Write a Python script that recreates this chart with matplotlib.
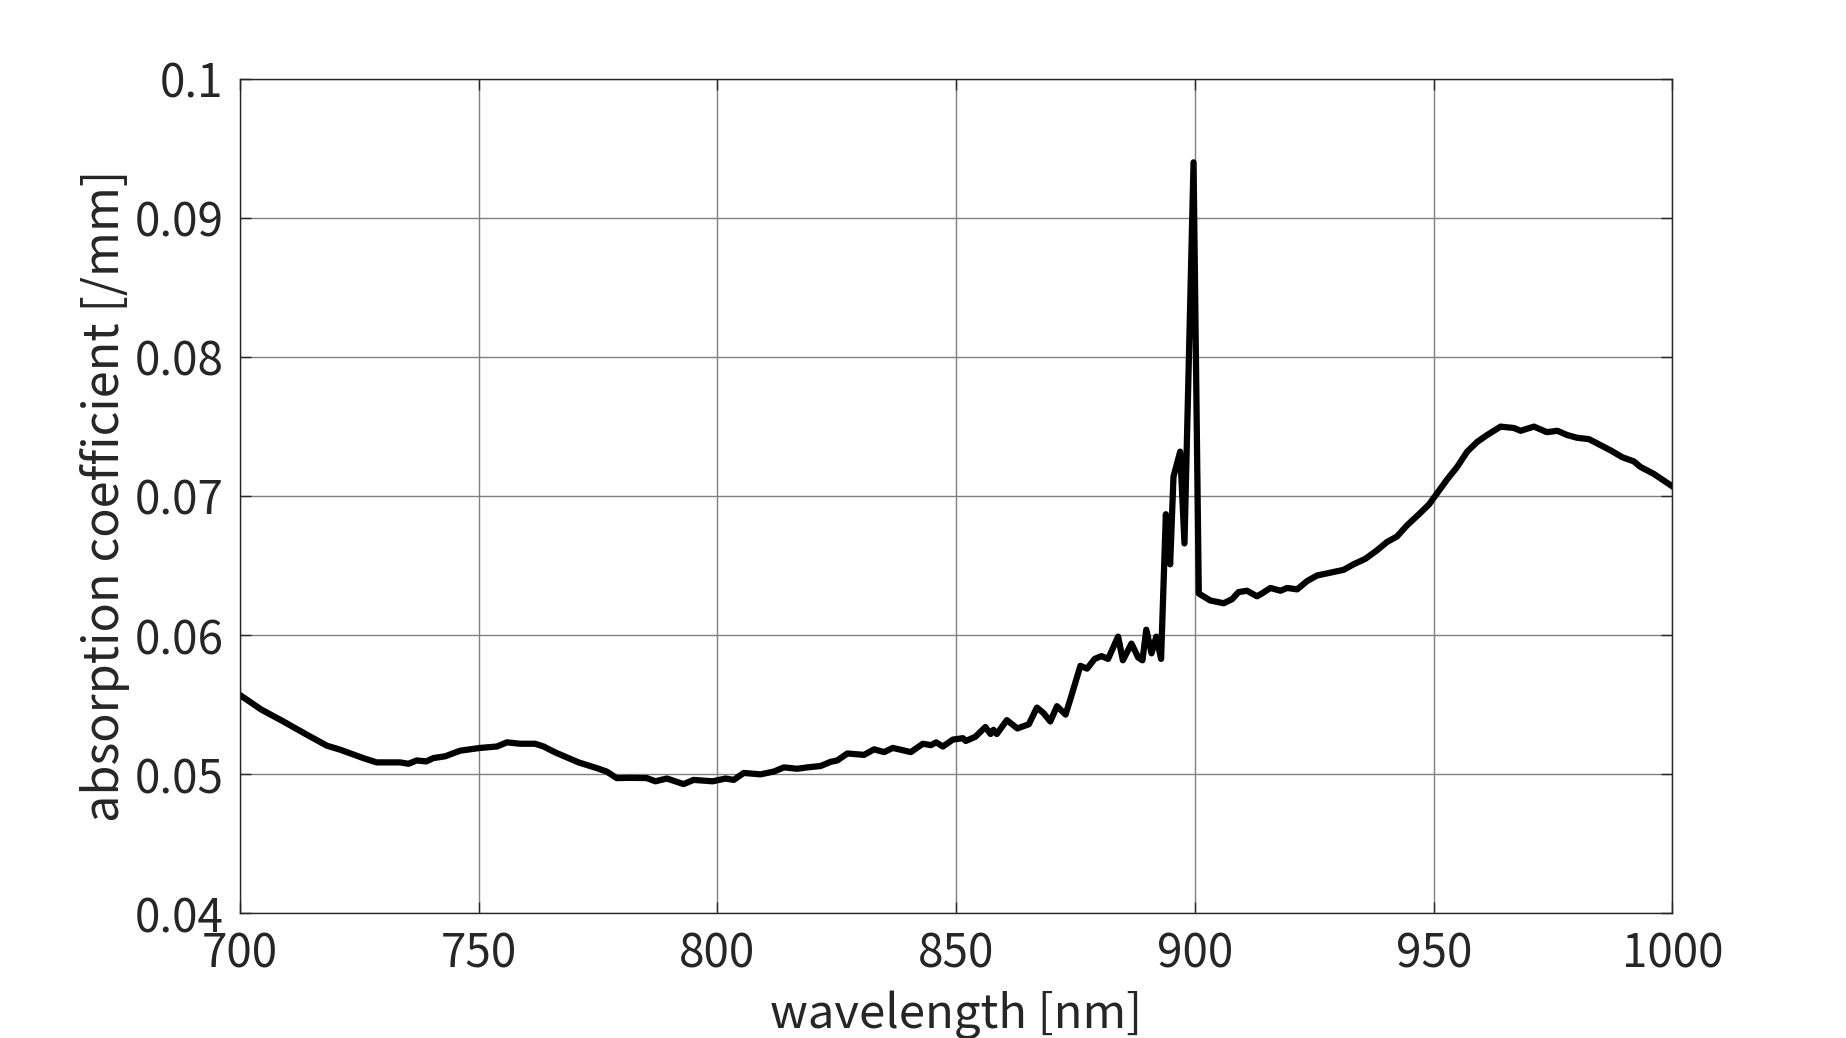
import matplotlib
matplotlib.use('Agg')
import matplotlib.pyplot as plt

# wavelength [nm] and absorption coefficient [/mm]
wavelength = [700, 704.5, 709.1, 714.0, 718.2, 721.0, 725.8, 728.6, 733.5, 735.3,
              737.0, 739.0, 740.5, 743.0, 746.1, 750.3, 753.8, 755.9, 758.7, 761.8,
              763.6, 766.0, 770.9, 774.7, 776.8, 778.9, 781.7, 785.2, 787.0, 789.4,
              792.9, 795.0, 799.0, 801.7, 803.4, 805.5, 809.0, 811.8, 813.9, 816.7,
              818.8, 821.6, 823.7, 825.1, 827.2, 830.7, 832.8, 834.9, 836.7, 840.5,
              843.0, 844.7, 845.8, 847.2, 849.3, 851.4, 852.0, 854.0, 856.1, 857.2,
              857.8, 858.5, 860.6, 862.8, 865.2, 866.9, 868.3, 869.7, 871.1, 872.9,
              873.9, 876.0, 877.4, 879.0, 880.4, 881.8, 883.9, 884.9, 886.7, 888.1,
              889.0, 889.8, 890.9, 891.9, 892.9, 893.9, 894.8, 895.5, 896.9, 897.8,
              899.7, 900.8, 903.2, 906.0, 907.8, 909.1, 910.9, 913.0, 914.0, 915.8,
              917.9, 919.3, 921.4, 923.5, 925.6, 928.4, 931.1, 933.2, 935.7, 938.1,
              940.2, 942.3, 944.4, 946.9, 949.0, 950.7, 952.8, 954.9, 957.0, 959.1,
              961.2, 964.0, 966.8, 968.2, 971.0, 973.7, 975.9, 977.9, 980.0, 982.5,
              984.2, 987.0, 989.5, 991.9, 993.3, 996.1, 999.6, 1000]
absorption = [0.0557, 0.05465, 0.0538, 0.05285, 0.05206, 0.05177, 0.05117, 0.05086, 0.05086, 0.05076,
              0.0510, 0.05093, 0.05117, 0.0513, 0.0517, 0.0519, 0.0520, 0.0523, 0.0522, 0.0522,
              0.0520, 0.05158, 0.05086, 0.05045, 0.0502, 0.04973, 0.04975, 0.04973, 0.0495, 0.0497,
              0.0493, 0.0496, 0.0495, 0.0497, 0.0496, 0.0501, 0.0500, 0.0502, 0.0505, 0.0504,
              0.0505, 0.0506, 0.0509, 0.0510, 0.0515, 0.0514, 0.0518, 0.0516, 0.0519, 0.0516,
              0.0522, 0.0521, 0.0523, 0.0520, 0.0525, 0.0526, 0.0524, 0.0527, 0.0534, 0.0529,
              0.0532, 0.0529, 0.0539, 0.0533, 0.0536, 0.0548, 0.0544, 0.0538, 0.0549, 0.0543,
              0.0554, 0.0578, 0.0576, 0.0583, 0.0585, 0.0583, 0.0599, 0.0582, 0.0594, 0.0584,
              0.0582, 0.0604, 0.0587, 0.0599, 0.0583, 0.0687, 0.0651, 0.0714, 0.0732, 0.0666,
              0.0940, 0.0630, 0.0625, 0.0623, 0.0626, 0.0631, 0.0632, 0.0628, 0.0630, 0.0634,
              0.0632, 0.0634, 0.0633, 0.0639, 0.0643, 0.0645, 0.0647, 0.0651, 0.0655, 0.0661,
              0.0667, 0.0671, 0.0679, 0.0687, 0.0694, 0.0702, 0.0712, 0.0721, 0.0732, 0.0739,
              0.0744, 0.0750, 0.0749, 0.0747, 0.0750, 0.0746, 0.0747, 0.0744, 0.0742, 0.0741,
              0.0738, 0.0733, 0.0728, 0.0725, 0.0721, 0.0716, 0.0708, 0.0707]

x_ticks = [700, 750, 800, 850, 900, 950, 1000]
y_ticks = [0.04, 0.05, 0.06, 0.07, 0.08, 0.09, 0.1]
y_tick_labels = ['0.04', '0.05', '0.06', '0.07', '0.08', '0.09', '0.1']

plt.rcParams['font.family'] = ['Noto Sans CJK JP', 'DejaVu Sans']

fig = plt.figure(figsize=(18.46, 10.38), dpi=100)
ax = fig.add_axes([0.13, 0.12, 0.776, 0.804])

ax.plot(wavelength, absorption, color='black', linewidth=4.5)

ax.set_xlim(700, 1000)
ax.set_ylim(0.04, 0.1)
ax.set_xticks(x_ticks)
ax.set_yticks(y_ticks)
ax.set_yticklabels(y_tick_labels)
ax.grid(True, color='#808080', linewidth=1.0)
ax.set_axisbelow(True)

ax.tick_params(direction='in', length=8, width=1, top=True, right=True,
               labelsize=33, colors='#262626', pad=12)
ax.tick_params(axis='y', pad=12)
for s in ax.spines.values():
    s.set_linewidth(1)
    s.set_color('#262626')

ax.set_xlabel('wavelength [nm]', fontsize=34, color='#262626', labelpad=9)
ax.set_ylabel('absorption coefficient [/mm]', fontsize=35, color='#262626',
              labelpad=3)

fig.savefig('out.png', dpi=100, facecolor='white')
